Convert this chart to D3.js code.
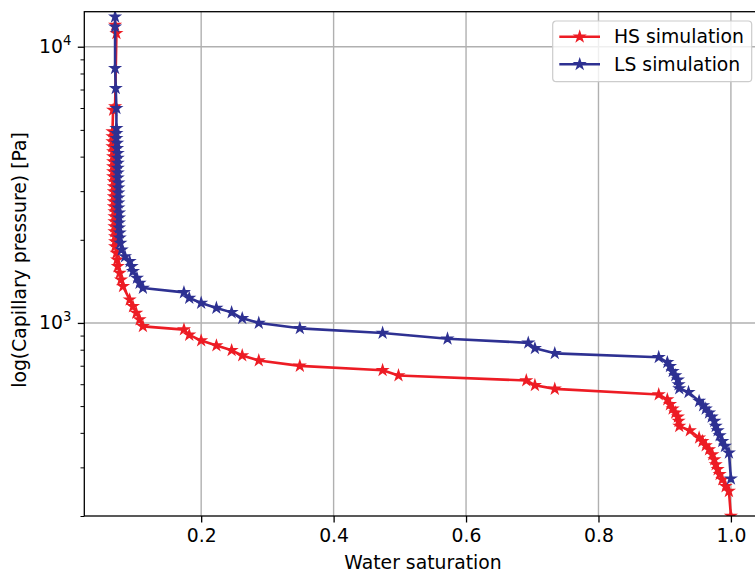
<!DOCTYPE html>
<html>
<head>
<meta charset="utf-8">
<script src="https://cdn.jsdelivr.net/npm/d3@7"></script>
<style>
  html, body { margin: 0; padding: 0; background: #ffffff; }
  svg { display: block; font-family: "DejaVu Sans", sans-serif; }
</style>
</head>
<body>
<svg id="chart" width="755" height="573"></svg>
<script>
// Capillary pressure curves: HS vs LS simulation
const hsSaturation = [
  0.070, 0.072, 0.070, 0.067, 0.066, 0.066, 0.066, 0.066, 0.067, 0.067,
  0.067, 0.067, 0.067, 0.067, 0.068, 0.068, 0.068, 0.068, 0.068, 0.068,
  0.069, 0.069, 0.069, 0.069, 0.069, 0.070, 0.070, 0.070, 0.072, 0.073,
  0.074, 0.077, 0.079, 0.082, 0.092, 0.097, 0.102, 0.107, 0.112, 0.174,
  0.182, 0.200, 0.223, 0.246, 0.262, 0.287, 0.349, 0.474, 0.498, 0.691,
  0.704, 0.734, 0.891, 0.904, 0.908, 0.912, 0.916, 0.920, 0.921, 0.922,
  0.938, 0.952, 0.957, 0.962, 0.967, 0.972, 0.975, 0.977, 0.980, 0.983,
  0.987, 0.992, 0.997, 1.000
];
const hsPressure = [
  11980, 11180, 6067, 5903, 4928, 4727, 4535, 4350, 4173, 4003,
  3840, 3684, 3533, 3389, 3251, 3118, 2991, 2869, 2752, 2640,
  2532, 2429, 2330, 2235, 2144, 2056, 1972, 1892, 1791, 1694,
  1602, 1517, 1434, 1357, 1214, 1148, 1087, 1028, 972, 946,
  905, 863, 828, 796, 762, 731, 699, 674, 645, 619,
  595, 577, 551, 528, 507, 489, 473, 457, 441, 423,
  408, 384, 373, 360, 348, 334, 320, 307, 295, 283,
  271, 256, 246, 200
];
const lsSaturation = [
  0.070, 0.070, 0.070, 0.071, 0.072, 0.072, 0.072, 0.072, 0.073, 0.073,
  0.074, 0.074, 0.074, 0.074, 0.074, 0.074, 0.075, 0.075, 0.075, 0.075,
  0.075, 0.075, 0.076, 0.076, 0.076, 0.076, 0.077, 0.077, 0.078, 0.080,
  0.085, 0.092, 0.095, 0.097, 0.103, 0.107, 0.112, 0.174, 0.182, 0.200,
  0.223, 0.246, 0.262, 0.287, 0.349, 0.474, 0.572, 0.694, 0.704, 0.734,
  0.891, 0.904, 0.908, 0.912, 0.916, 0.920, 0.921, 0.922, 0.936, 0.952,
  0.958, 0.962, 0.967, 0.971, 0.975, 0.977, 0.980, 0.983, 0.987, 0.991,
  0.997, 1.000
];
const lsPressure = [
  12840, 11810, 8353, 7072, 5989, 5070, 4863, 4665, 4476, 4292,
  4117, 3950, 3789, 3634, 3494, 3352, 3215, 3084, 2958, 2838,
  2722, 2612, 2505, 2403, 2306, 2211, 2121, 2035, 1946, 1841,
  1741, 1670, 1602, 1537, 1455, 1395, 1338, 1290, 1231, 1181,
  1133, 1092, 1039, 1000, 956, 920, 877, 847, 809, 776,
  751, 720, 697, 668, 645, 623, 598, 579, 561, 521,
  502, 489, 473, 457, 441, 423, 408, 391, 373, 358,
  339, 273
];
const seriesNames = ["HS simulation", "LS simulation"];
const seriesColors = ["#ed1c24", "#2e3192"];
const xTickValues = [0.2, 0.4, 0.6, 0.8, 1.0];
const xTickLabels = ["0.2", "0.4", "0.6", "0.8", "1.0"];
const yMajorTicks = [1000, 10000];
const yMajorExponents = ["3", "4"];
const xDomain = [0.0235, 1.0465];
const yDomain = [200, 13390];

const svg = d3.select("#chart");
const W = 755, H = 573;
const margin = { left: 84.3, top: 11.7, right: W - 761.7, bottom: H - 516 };
const plotW = W - margin.left - margin.right;
const plotH = H - margin.top - margin.bottom;

svg.append("rect").attr("width", W).attr("height", H).attr("fill", "#ffffff");

const x = d3.scaleLinear().domain(xDomain).range([0, plotW]);
const y = d3.scaleLog().domain(yDomain).range([plotH, 0]);

const g = svg.append("g").attr("transform", `translate(${margin.left},${margin.top})`);

svg.append("defs").append("clipPath").attr("id", "plot-clip")
  .append("rect").attr("width", plotW).attr("height", plotH);

// grid
const grid = g.append("g").attr("class", "grid");
grid.selectAll("line.gx").data(xTickValues).join("line")
  .attr("x1", d => x(d)).attr("x2", d => x(d))
  .attr("y1", 0).attr("y2", plotH)
  .attr("stroke", "#b0b0b0").attr("stroke-width", 1.4);
grid.selectAll("line.gy").data(yMajorTicks).join("line")
  .attr("x1", 0).attr("x2", plotW)
  .attr("y1", d => y(d)).attr("y2", d => y(d))
  .attr("stroke", "#b0b0b0").attr("stroke-width", 1.4);

// series
const series = [
  { name: seriesNames[0], color: seriesColors[0], pts: hsSaturation.map((s, i) => [s, hsPressure[i]]) },
  { name: seriesNames[1], color: seriesColors[1], pts: lsSaturation.map((s, i) => [s, lsPressure[i]]) }
];
const line = d3.line().x(d => x(d[0])).y(d => y(d[1]));
const star = d3.symbol().type(d3.symbolStar).size(28);

const plot = g.append("g").attr("clip-path", "url(#plot-clip)");
series.forEach(s => {
  plot.append("path").datum(s.pts)
    .attr("d", line).attr("fill", "none")
    .attr("stroke", s.color).attr("stroke-width", 2.6)
    .attr("stroke-linejoin", "round").attr("stroke-linecap", "butt");
  plot.selectAll(null).data(s.pts).join("path")
    .attr("transform", d => `translate(${x(d[0])},${y(d[1])})`)
    .attr("d", star)
    .attr("fill", s.color).attr("stroke", s.color).attr("stroke-width", 1.5)
    .attr("stroke-linejoin", "miter");
});

// axes
const fontSize = 18.8;
const xAxis = d3.axisBottom(x).tickValues(xTickValues)
  .tickFormat((d, i) => xTickLabels[i]).tickSize(6.5).tickPadding(6);
const gx = g.append("g").attr("transform", `translate(0,${plotH})`).call(xAxis);
gx.select(".domain").remove();
gx.selectAll("line").attr("stroke", "#000").attr("stroke-width", 1.3);
gx.selectAll("text").attr("font-size", fontSize).attr("fill", "#000")
  .attr("font-family", "DejaVu Sans, sans-serif");

const minorTicks = [];
[100, 1000].forEach(base => {
  for (let k = 2; k <= 9; k++) {
    const v = base * k;
    if (v >= yDomain[0] && v <= yDomain[1]) minorTicks.push(v);
  }
});
const yMinor = d3.axisLeft(y).tickValues(minorTicks).tickFormat("").tickSize(3.8);
const gym = g.append("g").call(yMinor);
gym.select(".domain").remove();
gym.selectAll("line").attr("stroke", "#000").attr("stroke-width", 1.0);

const yAxis = d3.axisLeft(y).tickValues(yMajorTicks).tickFormat("").tickSize(6.5).tickPadding(6.5);
const gy = g.append("g").call(yAxis);
gy.select(".domain").remove();
gy.selectAll("line").attr("stroke", "#000").attr("stroke-width", 1.3);
gy.selectAll(".tick text").each(function (d, i) {
  const t = d3.select(this)
    .attr("font-size", fontSize).attr("fill", "#000")
    .attr("font-family", "DejaVu Sans, sans-serif")
    .attr("dy", "0.32em");
  t.append("tspan").text("10");
  t.append("tspan").attr("font-size", fontSize * 0.7).attr("dy", "-0.62em").text(yMajorExponents[i]);
});

// frame
g.append("rect").attr("width", plotW).attr("height", plotH)
  .attr("fill", "none").attr("stroke", "#000").attr("stroke-width", 1.3);

// axis titles
svg.append("text")
  .attr("x", margin.left + plotW / 2).attr("y", 569)
  .attr("text-anchor", "middle").attr("font-size", fontSize).attr("fill", "#000")
  .text("Water saturation");
svg.append("text")
  .attr("transform", `translate(26,260) rotate(-90)`)
  .attr("text-anchor", "middle").attr("font-size", fontSize).attr("fill", "#000")
  .text("log(Capillary pressure) [Pa]");

// legend
const lg = svg.append("g").attr("transform", "translate(552.7,21)");
lg.append("rect").attr("width", 199).attr("height", 60.7).attr("rx", 3.5)
  .attr("fill", "#ffffff").attr("fill-opacity", 0.8)
  .attr("stroke", "#cccccc").attr("stroke-width", 1.2);
series.forEach((s, i) => {
  const yy = 15.7 + i * 27.6;
  lg.append("line").attr("x1", 6.6).attr("x2", 47.3).attr("y1", yy).attr("y2", yy)
    .attr("stroke", s.color).attr("stroke-width", 2.6);
  lg.append("path").attr("transform", `translate(27,${yy})`).attr("d", star)
    .attr("fill", s.color).attr("stroke", s.color).attr("stroke-width", 1.5);
  lg.append("text").attr("x", 61.3).attr("y", yy).attr("dy", "0.35em")
    .attr("font-size", fontSize).attr("fill", "#000").text(s.name);
});
</script>
</body>
</html>
